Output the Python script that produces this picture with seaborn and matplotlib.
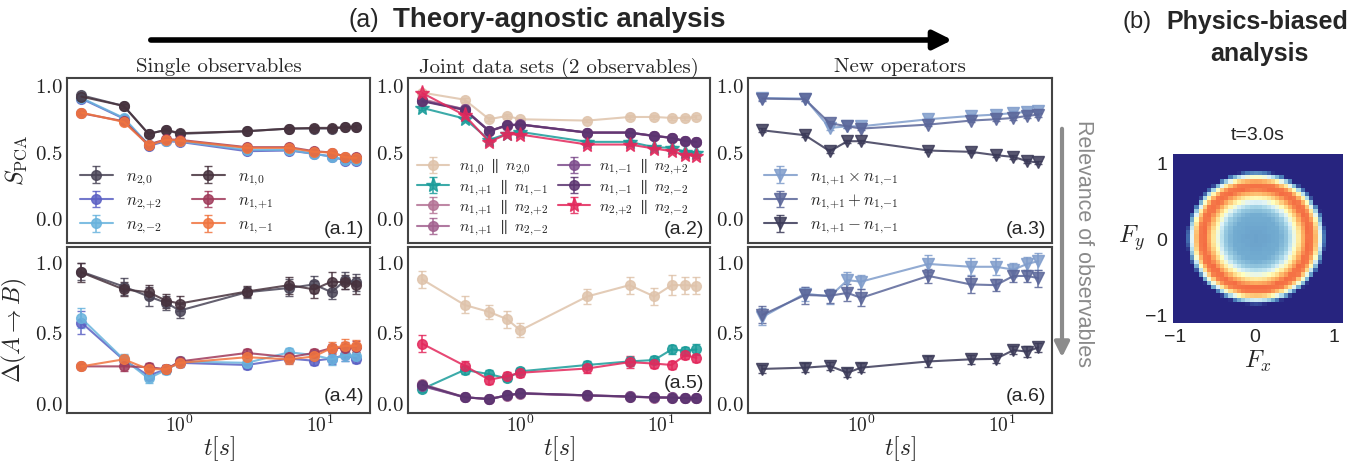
import numpy as np
import matplotlib
matplotlib.use("Agg")
import matplotlib.pyplot as plt
from matplotlib.colors import LinearSegmentedColormap
from matplotlib.patches import FancyArrowPatch
import seaborn as sns

# --- DATA ---
T = [0.2, 0.4, 0.6, 0.8, 1.0, 3, 6, 9, 12, 15, 18]

# (a.1) single observables, S_PCA
S_N20 = [0.93, 0.85, 0.64, 0.67, 0.64, 0.66, 0.68, 0.68, 0.68, 0.69, 0.69]
S_N22 = [0.905, 0.755, 0.55, 0.585, 0.58, 0.51, 0.515, 0.49, 0.47, 0.44, 0.44]
S_N2M2 = [0.91, 0.76, 0.56, 0.59, 0.585, 0.52, 0.52, 0.49, 0.47, 0.445, 0.445]
S_N10 = [0.92, 0.85, 0.64, 0.67, 0.645, 0.66, 0.68, 0.685, 0.685, 0.69, 0.695]
S_N11 = [0.795, 0.735, 0.56, 0.60, 0.595, 0.54, 0.54, 0.51, 0.50, 0.47, 0.465]
S_N1M1 = [0.80, 0.73, 0.555, 0.595, 0.59, 0.535, 0.535, 0.505, 0.50, 0.465, 0.46]
S_ERR = [0.015, 0.015, 0.015, 0.012, 0.012, 0.012, 0.012, 0.012, 0.015, 0.015, 0.015]

# (a.4) single observables, Delta(A->B)
D_N20 = [0.935, 0.83, 0.76, 0.715, 0.66, 0.79, 0.82, 0.845, 0.79, 0.875, 0.86]
D_N22 = [0.575, 0.31, 0.20, 0.245, 0.29, 0.275, 0.32, 0.305, 0.32, 0.345, 0.32]
D_N2M2 = [0.605, 0.315, 0.18, 0.24, 0.30, 0.29, 0.365, 0.345, 0.315, 0.345, 0.34]
D_N10 = [0.93, 0.81, 0.79, 0.73, 0.71, 0.795, 0.84, 0.81, 0.865, 0.86, 0.84]
D_N11 = [0.265, 0.265, 0.26, 0.245, 0.30, 0.36, 0.33, 0.36, 0.395, 0.395, 0.405]
D_N1M1 = [0.265, 0.315, 0.245, 0.245, 0.29, 0.33, 0.315, 0.335, 0.395, 0.41, 0.41]
E_N20 = [0.06, 0.06, 0.07, 0.05, 0.05, 0.04, 0.06, 0.06, 0.05, 0.06, 0.06]
E_N22 = [0.08, 0.03, 0.03, 0.03, 0.03, 0.03, 0.03, 0.03, 0.04, 0.04, 0.03]
E_N2M2 = [0.07, 0.04, 0.03, 0.03, 0.03, 0.03, 0.03, 0.03, 0.04, 0.04, 0.03]
E_N10 = [0.07, 0.05, 0.05, 0.05, 0.05, 0.04, 0.06, 0.06, 0.07, 0.05, 0.06]
E_N11 = [0.02, 0.03, 0.03, 0.03, 0.02, 0.03, 0.03, 0.03, 0.03, 0.04, 0.04]
E_N1M1 = [0.02, 0.03, 0.03, 0.03, 0.02, 0.03, 0.03, 0.03, 0.04, 0.05, 0.04]

# (a.2) joint data sets, S_PCA
S_J1020 = [0.95, 0.897, 0.75, 0.775, 0.75, 0.74, 0.767, 0.767, 0.76, 0.76, 0.767]
S_J11M1 = [0.835, 0.755, 0.595, 0.64, 0.655, 0.58, 0.58, 0.54, 0.535, 0.505, 0.50]
S_J1122 = [0.90, 0.825, 0.66, 0.705, 0.71, 0.65, 0.65, 0.625, 0.61, 0.585, 0.58]
S_J112M2 = [0.89, 0.82, 0.66, 0.70, 0.71, 0.648, 0.648, 0.623, 0.61, 0.583, 0.578]
S_J1M122 = [0.89, 0.825, 0.662, 0.705, 0.712, 0.65, 0.65, 0.625, 0.612, 0.585, 0.58]
S_J1M12M2 = [0.885, 0.82, 0.66, 0.705, 0.71, 0.65, 0.65, 0.625, 0.61, 0.585, 0.58]
S_J222M2 = [0.947, 0.78, 0.58, 0.637, 0.635, 0.56, 0.56, 0.53, 0.51, 0.48, 0.475]

# (a.5) joint data sets, Delta(A->B)
D_J1020 = [0.88, 0.70, 0.65, 0.60, 0.52, 0.76, 0.84, 0.76, 0.84, 0.84, 0.835]
D_J11M1 = [0.105, 0.24, 0.21, 0.18, 0.23, 0.275, 0.30, 0.31, 0.385, 0.375, 0.385]
D_J1122 = [0.14, 0.047, 0.033, 0.06, 0.075, 0.06, 0.052, 0.045, 0.045, 0.04, 0.04]
D_J112M2 = [0.13, 0.045, 0.035, 0.058, 0.072, 0.058, 0.05, 0.044, 0.043, 0.04, 0.038]
D_J1M122 = [0.125, 0.046, 0.034, 0.06, 0.074, 0.06, 0.052, 0.046, 0.045, 0.041, 0.04]
D_J1M12M2 = [0.135, 0.047, 0.033, 0.059, 0.075, 0.06, 0.051, 0.045, 0.044, 0.04, 0.04]
D_J222M2 = [0.425, 0.27, 0.17, 0.195, 0.22, 0.25, 0.295, 0.285, 0.275, 0.345, 0.325]
E_J1020 = [0.06, 0.06, 0.05, 0.06, 0.05, 0.05, 0.06, 0.06, 0.07, 0.06, 0.06]
E_J11M1 = [0.02, 0.03, 0.03, 0.02, 0.02, 0.03, 0.03, 0.03, 0.03, 0.03, 0.04]
E_JPURP = [0.02, 0.01, 0.01, 0.01, 0.01, 0.01, 0.01, 0.01, 0.01, 0.01, 0.01]
E_J222M2 = [0.06, 0.03, 0.03, 0.03, 0.03, 0.03, 0.04, 0.03, 0.03, 0.03, 0.03]

# (a.3) new operators, S_PCA
S_OPX = [0.91, 0.905, 0.685, 0.697, 0.697, 0.75, 0.775, 0.785, 0.797, 0.805, 0.81]
S_OPP = [0.905, 0.90, 0.72, 0.697, 0.68, 0.71, 0.74, 0.75, 0.76, 0.775, 0.785]
S_OPM = [0.667, 0.63, 0.51, 0.585, 0.585, 0.515, 0.505, 0.48, 0.467, 0.435, 0.425]

# (a.6) new operators, Delta(A->B)
D_OPX = [0.615, 0.78, 0.76, 0.875, 0.865, 0.99, 0.97, 0.97, 0.95, 0.99, 1.01]
D_OPP = [0.63, 0.77, 0.765, 0.785, 0.75, 0.905, 0.845, 0.84, 0.905, 0.905, 0.89]
D_OPM = [0.247, 0.256, 0.268, 0.22, 0.256, 0.30, 0.315, 0.318, 0.38, 0.37, 0.40]
E_OPX = [0.06, 0.05, 0.05, 0.06, 0.05, 0.06, 0.06, 0.06, 0.05, 0.05, 0.06]
E_OPP = [0.06, 0.06, 0.05, 0.06, 0.06, 0.05, 0.06, 0.04, 0.04, 0.04, 0.06]
E_OPM = [0.03, 0.03, 0.03, 0.03, 0.03, 0.04, 0.03, 0.03, 0.03, 0.04, 0.03]

# (b) radial profile of the F_x/F_y histogram at t=3.0s
RING_R = [0.0, 0.3, 0.4, 0.47, 0.53, 0.58, 0.65, 0.72, 0.77, 0.81, 0.85, 0.88, 2.0]
RING_V = [0.18, 0.20, 0.27, 0.40, 0.55, 0.68, 0.80, 0.78, 0.62, 0.40, 0.15, 0.0, 0.0]

# --- STYLE ---
sns.set_theme(style="white")
plt.rcParams["font.family"] = "serif"
plt.rcParams["font.serif"] = ["cmr10", "DejaVu Serif"]
plt.rcParams["mathtext.fontset"] = "cm"
plt.rcParams["axes.formatter.use_mathtext"] = True
plt.rcParams["axes.unicode_minus"] = False
SANS = "Liberation Sans"
SPINE = "#444444"

EB = dict(lw=1.5, elinewidth=1.2, capsize=3, alpha=0.85)
HIST_CMAP = LinearSegmentedColormap.from_list(
    "ring", ["#27247f", "#4575b4", "#74add1", "#abd9e9", "#e0f3f8", "#ffffbf",
             "#fee090", "#fdae61", "#f46d43", "#d73027", "#a50026"])


def style_axis(ax, bottom_row):
    ax.set_xscale("log")
    ax.set_xlim(0.158, 22.5)
    ax.set_yticks([0.0, 0.5, 1.0])
    ax.tick_params(which="both", direction="in", top=False, right=False, colors=SPINE,
                   labelcolor="#222222", labelsize=15, pad=3)
    ax.tick_params(which="major", length=6, width=1.0)
    ax.tick_params(which="minor", length=3, width=0.8)
    for s in ax.spines.values():
        s.set_color(SPINE)
        s.set_linewidth(1.5)
    if bottom_row:
        ax.set_ylim(-0.065, 1.11)
        ax.tick_params(axis="x", labelsize=14, pad=1)
        ax.set_xlabel(r"$t[s]$", fontsize=17, labelpad=-1)
    else:
        ax.set_ylim(-0.18, 1.06)
        ax.tick_params(axis="x", labelbottom=False)


def plot(ax, y, err, color, label, marker="o", ms=7):
    ax.errorbar(T, y, yerr=err, fmt="-" + marker, color=color, ms=ms, label=label, **EB)


fig = plt.figure(figsize=(13.67, 4.66), dpi=100)
W, H = 1367, 466


def add_ax(x0, x1, ytop, ybot):
    return fig.add_axes([x0 / W, 1 - ybot / H, (x1 - x0) / W, (ybot - ytop) / H])


ax1 = add_ax(67, 370, 78, 243)
ax4 = add_ax(67, 370, 247, 413)
ax2 = add_ax(408, 710, 78, 243)
ax5 = add_ax(408, 710, 247, 413)
ax3 = add_ax(748, 1052, 78, 243)
ax6 = add_ax(748, 1052, 247, 413)
axb = add_ax(1173, 1343, 154, 323)

C_N20, C_N22, C_N2M2 = "#4a4557", "#5b60c4", "#69b3dd"
C_N10, C_N11, C_N1M1 = "#47323d", "#a03a5a", "#f07540"
C_BEIGE, C_TEAL, C_CRIM = "#dfc3ab", "#1a9c9a", "#e3285c"
C_M1, C_M2, C_P1, C_P2 = "#b47395", "#a3628f", "#7d4c8c", "#5b3470"
C_OPX, C_OPP, C_OPM = "#7f9ccb", "#5b6699", "#3b3a58"

PAR = r"\;\parallel\;"

# (a.1) / (a.4)
plot(ax1, S_N20, S_ERR, C_N20, r"$n_{2{,}0}$")
plot(ax1, S_N22, S_ERR, C_N22, r"$n_{2{,}{+}2}$")
plot(ax1, S_N2M2, S_ERR, C_N2M2, r"$n_{2{,}{-}2}$")
plot(ax1, S_N10, S_ERR, C_N10, r"$n_{1{,}0}$")
plot(ax1, S_N11, S_ERR, C_N11, r"$n_{1{,}{+}1}$")
plot(ax1, S_N1M1, S_ERR, C_N1M1, r"$n_{1{,}{-}1}$")
plot(ax4, D_N20, E_N20, C_N20, None)
plot(ax4, D_N22, E_N22, C_N22, None)
plot(ax4, D_N2M2, E_N2M2, C_N2M2, None)
plot(ax4, D_N10, E_N10, C_N10, None)
plot(ax4, D_N11, E_N11, C_N11, None)
plot(ax4, D_N1M1, E_N1M1, C_N1M1, None)

# (a.2) / (a.5)
plot(ax2, S_J1020, S_ERR, C_BEIGE, r"$n_{1{,}0}" + PAR + r"n_{2{,}0}$")
plot(ax2, S_J11M1, S_ERR, C_TEAL, r"$n_{1{,}{+}1}" + PAR + r"n_{1{,}{-}1}$", "*", 11)
plot(ax2, S_J1122, S_ERR, C_M1, r"$n_{1{,}{+}1}" + PAR + r"n_{2{,}{+}2}$")
plot(ax2, S_J112M2, S_ERR, C_M2, r"$n_{1{,}{+}1}" + PAR + r"n_{2{,}{-}2}$")
plot(ax2, S_J1M122, S_ERR, C_P1, r"$n_{1{,}{-}1}" + PAR + r"n_{2{,}{+}2}$")
plot(ax2, S_J1M12M2, S_ERR, C_P2, r"$n_{1{,}{-}1}" + PAR + r"n_{2{,}{-}2}$")
plot(ax2, S_J222M2, S_ERR, C_CRIM, r"$n_{2{,}{+}2}" + PAR + r"n_{2{,}{-}2}$", "*", 11)
plot(ax5, D_J1020, E_J1020, C_BEIGE, None)
plot(ax5, D_J11M1, E_J11M1, C_TEAL, None)
plot(ax5, D_J1122, E_JPURP, C_M1, None)
plot(ax5, D_J112M2, E_JPURP, C_M2, None)
plot(ax5, D_J1M122, E_JPURP, C_P1, None)
plot(ax5, D_J1M12M2, E_JPURP, C_P2, None)
plot(ax5, D_J222M2, E_J222M2, C_CRIM, None)

# (a.3) / (a.6)
plot(ax3, S_OPX, S_ERR, C_OPX, r"$n_{1{,}{+}1}\times n_{1{,}{-}1}$", "v", 8)
plot(ax3, S_OPP, S_ERR, C_OPP, r"$n_{1{,}{+}1}+n_{1{,}{-}1}$", "v", 8)
plot(ax3, S_OPM, S_ERR, C_OPM, r"$n_{1{,}{+}1}-n_{1{,}{-}1}$", "v", 8)
plot(ax6, D_OPX, E_OPX, C_OPX, None, "v", 8)
plot(ax6, D_OPP, E_OPP, C_OPP, None, "v", 8)
plot(ax6, D_OPM, E_OPM, C_OPM, None, "v", 8)

for ax in (ax1, ax2, ax3):
    style_axis(ax, False)
for ax in (ax4, ax5, ax6):
    style_axis(ax, True)

ax1.set_ylabel(r"$S_{\rm PCA}$", fontsize=17, labelpad=4)
ax4.set_ylabel(r"$\Delta(A\to B)$", fontsize=17, labelpad=4)
ax1.set_title("Single observables", fontsize=15, pad=4)
ax2.set_title("Joint data sets (2 observables)", fontsize=15, pad=4)
ax3.set_title("New operators", fontsize=15, pad=4)

ax1.legend(ncol=2, loc="lower left", frameon=False, fontsize=12, labelspacing=0.3,
           handlelength=2.0, columnspacing=1.8, borderaxespad=0.0, bbox_to_anchor=(0.02, 0.0))
ax2.legend(ncol=2, loc="lower left", frameon=False, fontsize=11.5, labelspacing=0.0,
           handlelength=2.0, handletextpad=0.6, columnspacing=0.6, borderaxespad=0.0,
           bbox_to_anchor=(0.01, -0.01))
ax3.legend(ncol=1, loc="lower left", frameon=False, fontsize=12, labelspacing=0.3,
           handlelength=2.0, borderaxespad=0.0, bbox_to_anchor=(0.03, 0.0))

for ax, lab, ypos in ((ax1, "(a.1)", 0.08), (ax2, "(a.2)", 0.08), (ax3, "(a.3)", 0.08),
                      (ax4, "(a.4)", 0.10), (ax5, "(a.5)", 0.18), (ax6, "(a.6)", 0.10)):
    ax.text(0.98, ypos, lab, transform=ax.transAxes, ha="right", va="center",
            family=SANS, fontsize=14)

# (b) histogram image
XMIN, XMAX, YMIN, YMAX, NB = -1.03, 1.12, -1.1, 1.12, 40
DX, DY = (XMAX - XMIN) / NB, (YMAX - YMIN) / NB
xc = XMIN + DX * (np.arange(NB) + 0.5)
yc = YMIN + DY * (np.arange(NB) + 0.5)
XX, YY = np.meshgrid(xc, yc)
RR = np.hypot(XX - 0.02, YY - 0.02)
Z = np.interp(RR, RING_R, RING_V)
sns.heatmap(Z[::-1], ax=axb, cmap=HIST_CMAP, vmin=0, vmax=1, cbar=False,
            xticklabels=False, yticklabels=False)
axb.set_xticks((np.array([-1, 0, 1]) - XMIN) / DX)
axb.set_xticklabels(["\u22121", "0", "1"], family=SANS, fontsize=14)
axb.set_yticks((YMAX - np.array([1, 0, -1])) / DY)
axb.set_yticklabels(["1", "0", "\u22121"], family=SANS, fontsize=14, rotation=0)
axb.tick_params(length=0, pad=4)
axb.set_xlabel(r"$F_x$", fontsize=18, labelpad=2)
axb.set_ylabel(r"$F_y$", fontsize=18, rotation=0, labelpad=10, va="center")
axb.set_title("t=3.0s", family=SANS, fontsize=14, pad=10)

# header + arrows
fig.text(349 / W, 1 - 20 / H, "(a)", family=SANS, fontsize=18, ha="left", va="center")
fig.text(393 / W, 1 - 20 / H, "Theory-agnostic analysis", family=SANS, fontsize=20,
         weight="bold", ha="left", va="center")
fig.add_artist(FancyArrowPatch((148 / W, 1 - 40 / H), (955 / W, 1 - 40 / H),
                               transform=fig.transFigure, arrowstyle="-|>",
                               mutation_scale=28, lw=4, color="black"))
fig.add_artist(FancyArrowPatch((1062 / W, 1 - 126 / H), (1062 / W, 1 - 360 / H),
                               transform=fig.transFigure, arrowstyle="-|>",
                               mutation_scale=22, lw=3, color="#8c8c8c"))
fig.text(1083 / W, 1 - 244 / H, "Relevance of observables", family=SANS, fontsize=15.5,
         color="#8a8a8a", rotation=270, ha="center", va="center")
fig.text(1122 / W, 1 - 22 / H, "(b)", family=SANS, fontsize=17, ha="left", va="center")
fig.text(1166 / W, 1 - 22 / H, "Physics-biased", family=SANS, fontsize=18,
         weight="bold", ha="left", va="center")
fig.text(1259 / W, 1 - 54 / H, "analysis", family=SANS, fontsize=18,
         weight="bold", ha="center", va="center")

fig.savefig("out.png", dpi=100)
